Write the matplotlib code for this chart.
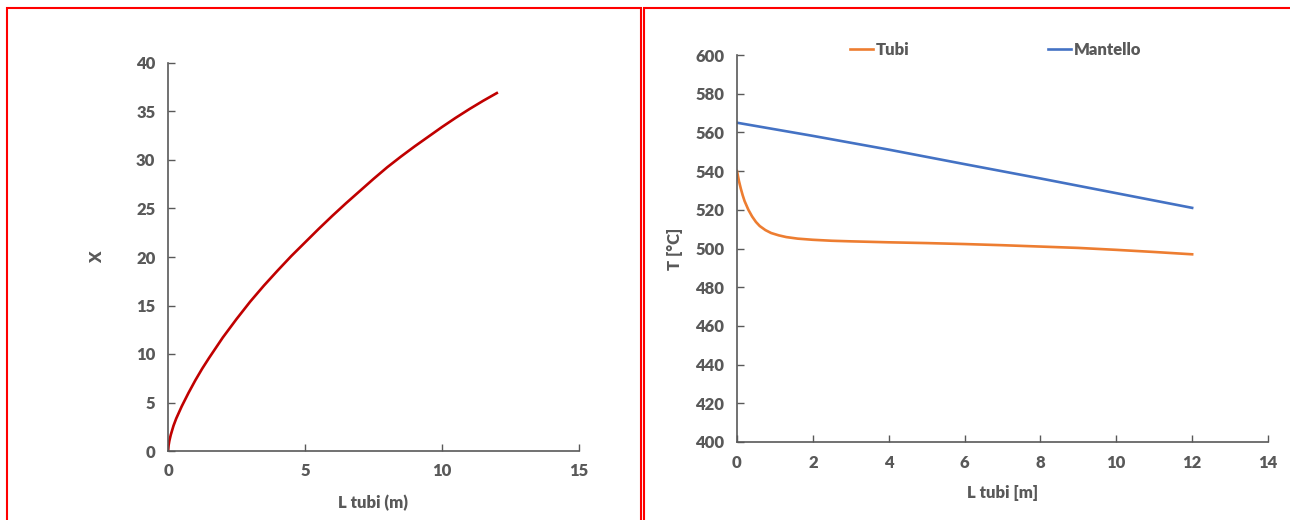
import matplotlib
matplotlib.use("Agg")
import matplotlib.pyplot as plt
from matplotlib.patches import Rectangle

# --- data ---
# left panel: X vs tube length
l_conv = [0, 0.02, 0.05, 0.1, 0.2, 0.3, 0.5, 0.75, 1, 1.25, 1.5, 2, 2.5, 3, 3.5, 4, 4.5,
          5, 5.5, 6, 6.5, 7, 7.5, 8, 8.5, 9, 9.5, 10, 10.5, 11, 11.5, 12]
x_conv = [0, 0.55, 1.05, 1.65, 2.6, 3.35, 4.6, 6.0, 7.3, 8.5, 9.6, 11.7, 13.6, 15.4, 17.05,
          18.6, 20.1, 21.5, 22.9, 24.25, 25.55, 26.8, 28.05, 29.25, 30.35, 31.4, 32.4, 33.4,
          34.35, 35.25, 36.1, 36.9]

# right panel: temperatures
l_tubi = [0, 0.05, 0.1, 0.15, 0.2, 0.3, 0.4, 0.5, 0.6, 0.75, 0.9, 1.1, 1.3, 1.6, 2, 2.5,
          3, 4, 5, 6, 7, 8, 9, 10, 11, 12]
t_tubi = [540, 535, 531, 527.5, 524.5, 520, 516.5, 513.7, 511.6, 509.5, 508.0, 506.8,
          505.9, 505.1, 504.5, 504.0, 503.7, 503.2, 502.8, 502.3, 501.7, 501.0, 500.3,
          499.3, 498.2, 497]
l_mant = [0, 2, 4, 6, 8, 10, 12]
t_mant = [565, 558.2, 551.1, 543.6, 536.2, 528.6, 521]

GREY = "#595959"
WEIGHT = "heavy"
plt.rcParams["font.family"] = ["Lato", "DejaVu Sans"]
plt.rcParams["font.weight"] = WEIGHT

W, H = 1290, 520
fig = plt.figure(figsize=(W / 100, H / 100), dpi=100)


def fx(px):
    return px / W


def fy(py):
    return 1 - py / H


# red panel frames
fig.patches.append(Rectangle((fx(6.5), fy(530)), fx(634), fy(7.5) - fy(530),
                             transform=fig.transFigure, fill=False,
                             edgecolor="#ff0000", linewidth=1.5))
fig.patches.append(Rectangle((fx(644), fy(530)), fx(660), fy(7.5) - fy(530),
                             transform=fig.transFigure, fill=False,
                             edgecolor="#ff0000", linewidth=1.5))


def style(ax):
    for s in ["top", "right"]:
        ax.spines[s].set_visible(False)
    for s in ["left", "bottom"]:
        ax.spines[s].set_color(GREY)
        ax.spines[s].set_linewidth(1.2)
    ax.tick_params(direction="in", length=5, width=1, color=GREY,
                   labelcolor=GREY, labelsize=12, pad=9)
    for lab in ax.get_xticklabels() + ax.get_yticklabels():
        lab.set_fontweight(WEIGHT)


# --- left panel ---
ax1 = fig.add_axes([fx(168), fy(451), fx(579 - 168), fy(63) - fy(451)])
ax1.plot(l_conv, x_conv, color="#C00000", linewidth=1.9)
ax1.set_xlim(0, 15)
ax1.set_ylim(0, 40)
ax1.set_xticks(range(0, 16, 5))
ax1.set_yticks(range(0, 41, 5))
style(ax1)
ax1.set_xlabel("L tubi (m)", fontsize=12, color=GREY, fontweight=WEIGHT, va="center")
ax1.xaxis.set_label_coords(0.5, -0.134)
ax1.set_ylabel("X", fontsize=12, color=GREY, fontweight=WEIGHT, va="center")
ax1.yaxis.set_label_coords(-0.173, 0.5)

# --- right panel ---
ax2 = fig.add_axes([fx(737), fy(442), fx(1268 - 737), fy(55) - fy(442)])
ax2.plot(l_tubi, t_tubi, color="#ED7D31", linewidth=1.9, label="Tubi")
ax2.plot(l_mant, t_mant, color="#4472C4", linewidth=1.9, label="Mantello")
ax2.set_xlim(0, 14)
ax2.set_ylim(400, 600)
ax2.set_xticks(range(0, 15, 2))
ax2.set_yticks(range(400, 601, 20))
style(ax2)
ax2.set_xlabel("L tubi [m]", fontsize=12, color=GREY, fontweight=WEIGHT, va="center")
ax2.xaxis.set_label_coords(0.5, -0.132)
ax2.set_ylabel("T [°C]", fontsize=12, color=GREY, fontweight=WEIGHT, va="center")
ax2.yaxis.set_label_coords(-0.117, 0.5)

fig.legend(loc="center left", bbox_to_anchor=(fx(850), fy(50)), ncol=2,
           frameon=False, handlelength=1.4, handletextpad=0.15,
           columnspacing=8.3, borderpad=0, borderaxespad=0,
           labelcolor=GREY, prop={"weight": WEIGHT, "size": 12})

fig.savefig("out.png", dpi=100)
